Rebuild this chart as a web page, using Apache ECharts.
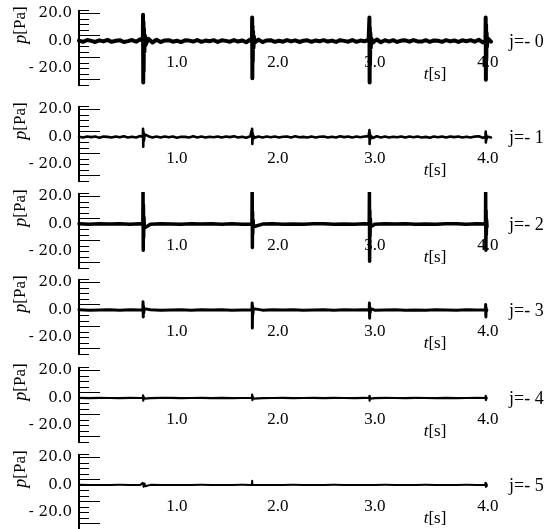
<!DOCTYPE html>
<html>
<head>
<meta charset="utf-8">
<script src="https://cdn.jsdelivr.net/npm/echarts@6/dist/echarts.min.js"></script>
<style>
  html, body { margin: 0; padding: 0; background: #fff; }
  #chart { width: 552px; height: 529px; }
</style>
</head>
<body>
<div id="chart"></div>
<script>
// panel names (right side) and x tick labels
const panelNames = ['j=- 0', 'j=- 1', 'j=- 2', 'j=- 3', 'j=- 4', 'j=- 5'];
const xTicks = [1, 2, 3, 4];
const yLabelValues = [20, 0, -20];

// background jitter, one value per sample (p1/p2 every 0.04 s, others every 0.1 s)
const p1Noise = [0.3,-0.6,0.7,0.1,-0.7,0.5,-0.3,0.8,-0.6,0.2,
  0.6,-0.7,-0.1,0.7,-0.5,1.2,-1.5,1.6,-1.1,0.9,
  -0.8,0.4,0.6,-0.5,0.2,-0.8,0.5,0.3,-0.4,0.7,
  -0.6,0.3,-0.2,0.6,-0.7,0.5,0.1,-0.5,0.7,-0.4,
  0.4,-0.9,1.1,-1.3,1.0,-0.8,0.4,0.6,-0.6,0.2,
  -0.5,0.7,-0.3,0.5,-0.7,0.2,0.5,-0.6,0.4,-0.2,
  0.6,-0.4,0.3,-0.7,0.6,0.1,-0.5,0.7,-0.6,0.3,
  -0.2,1.0,-1.2,1.1,-0.9,0.6,-0.4,0.6,-0.7,0.3,
  0.5,-0.5,0.7,-0.3,-0.4,0.6,-0.6,0.4,0.2,-0.6,
  0.6,-0.3,0.4,-0.7,0.5,-0.2,0.6,-0.5,0.9,-1.0,
  0.8,-0.5];
const p2Noise = [0.2,-0.4,0.4,-0.1,0.3,-0.5,0.3,0.1,-0.4,0.4,
  -0.2,0.5,-0.3,0.2,-0.4,0.7,-0.8,0.6,-0.4,0.3,
  -0.3,0.4,-0.2,0.4,-0.5,0.2,0.1,-0.4,0.5,-0.3,
  0.3,-0.4,0.2,-0.2,0.4,-0.4,0.3,-0.1,0.5,-0.3,
  0.2,-0.5,0.6,-0.6,0.4,-0.3,0.4,-0.2,0.3,-0.4,
  0.2,0.4,-0.3,0.5,-0.2,0.1,-0.4,0.4,-0.3,0.2,
  0.4,-0.4,0.2,-0.3,0.5,-0.1,0.3,-0.4,0.3,-0.2,
  0.4,0.6,-0.7,0.5,-0.3,0.3,-0.4,0.2,-0.2,0.4,
  -0.4,0.3,-0.2,0.4,-0.3,0.1,-0.5,0.3,-0.2,0.4,
  -0.3,0.4,-0.1,0.3,-0.4,0.2,-0.4,0.3,0.5,-0.6,
  0.4,-0.3];
const p3Noise = [0.15,-0.1,0.2,-0.05,0.1,-0.15,0.25,-0.2,0.1,0.05,-0.15,0.1,-0.05,0.15,-0.1,0.2,-0.15,0.1,-0.05,0.15,
  -0.1,0.05,-0.15,0.1,0.2,-0.1,0.05,-0.15,0.25,-0.2,0.1,-0.05,0.15,-0.1,0.05,-0.15,0.1,0.15,-0.1,0.2,-0.15];
const p4Noise = [0.1,-0.15,0.05,0.15,-0.1,0.1,-0.05,0.15,-0.15,0.05,0.1,-0.1,0.15,-0.05,0.1,-0.15,0.05,0.1,-0.1,0.15,
  -0.05,0.1,-0.15,0.05,0.15,-0.1,0.1,-0.05,0.15,-0.15,0.05,0.1,-0.1,0.05,-0.15,0.1,0.05,-0.1,0.15,-0.05,0.1];
const p5Noise = [0.05,-0.05,0.1,0,-0.05,0.05,0,-0.1,0.05,0.05,-0.05,0,0.05,-0.05,0.1,-0.05,0,0.05,-0.05,0,
  0.05,-0.05,0,0.1,-0.05,0.05,0,-0.05,0.05,-0.1,0.05,0,-0.05,0.05,0,-0.05,0.1,-0.05,0,0.05,-0.05];
const p6Noise = [0.05,0,-0.05,0,0.05,0,-0.05,0.05,0,0,-0.05,0,0.05,0,-0.05,0,0.05,0,0,-0.05,
  0,0.05,0,-0.05,0,0.05,0,0,-0.05,0,0.05,0,-0.05,0,0.05,0,0,-0.05,0.05,0,0];

// bursts: [t, p]
const p1Spikes = [[0.626,0.5],[0.628,19],[0.630,-30],[0.632,14],[0.634,-22],[0.637,9],[0.641,-8],[0.646,4],[0.652,-3],
  [1.696,-0.5],[1.698,17],[1.700,-27],[1.702,11],[1.704,-15],[1.707,7],[1.711,-5],[1.716,3],
  [2.846,0.4],[2.848,17],[2.850,-30],[2.852,10],[2.854,-16],[2.857,6],[2.861,-5],[2.866,2],
  [3.986,-0.3],[3.988,17],[3.990,-28],[3.992,12],[3.994,-14],[3.997,6],[4.001,-4],[4.006,2]];
const p2Spikes = [[0.626,0],[0.628,6],[0.630,-7],[0.632,4],[0.635,-3],[0.640,2],
  [1.696,0],[1.698,6],[1.700,-5],[1.702,3],[1.705,-2],[1.710,1],
  [2.846,0],[2.848,5],[2.850,-5],[2.852,3],[2.855,-2],[2.860,1],
  [3.986,0],[3.988,4],[3.990,-4],[3.992,2],[3.995,-2],[4.000,1]];
const p3Spikes = [[0.626,0],[0.628,27],[0.630,-19],[0.632,14],[0.634,-10],[0.637,5],[0.641,-3],
  [1.696,0],[1.698,26],[1.700,-17],[1.702,9],[1.704,-7],[1.707,3],[1.711,-2],
  [2.846,0],[2.848,25],[2.850,-27],[2.852,10],[2.854,-9],[2.857,4],[2.861,-2],
  [3.986,0],[3.988,23],[3.990,-19],[3.992,10],[3.994,-8],[3.997,3],[4.001,-2]];
const p4Spikes = [[0.626,0],[0.628,6],[0.630,-5],[0.632,3],[0.635,-2],[0.640,1],
  [1.696,0],[1.698,5],[1.700,-13],[1.702,3],[1.705,-3],[1.710,1],
  [2.846,0],[2.848,5],[2.850,-6],[2.852,2],[2.855,-2],[2.860,1],
  [3.986,0],[3.988,4],[3.990,-5],[3.992,2],[3.995,-1],[4.000,0.5]];
const p5Spikes = [[0.626,0],[0.628,2],[0.630,-2],[0.633,1],[0.638,-0.5],
  [1.696,0],[1.698,2.5],[1.700,-1.5],[1.703,1],[1.708,-0.5],
  [2.846,0],[2.848,1.5],[2.850,-2],[2.853,1],[2.858,-0.5],
  [3.986,0],[3.988,1.5],[3.990,-1.5],[3.993,0.8],[3.998,-0.4]];
const p6Spikes = [[0.600,0],[0.610,1.2],[0.618,-1.3],[0.626,1.5],[0.634,-1.4],[0.642,1.1],[0.650,-0.9],[0.660,0.5],
  [1.696,0],[1.698,3],[1.700,-1],[1.703,0.5],
  [2.846,0],[2.848,1],[2.850,-1],[2.853,0.4],
  [3.980,0],[3.986,1.5],[3.990,-1.5],[3.994,1.2],[3.998,-1]];

const noiseSets = [[p1Noise, 0.04], [p2Noise, 0.04], [p3Noise, 0.1], [p4Noise, 0.1], [p5Noise, 0.1], [p6Noise, 0.1]];
const spikeSets = [p1Spikes, p2Spikes, p3Spikes, p4Spikes, p5Spikes, p6Spikes];

// layout
const zeroY = [41, 137, 224, 310, 398, 485];
const lineWidths = [4, 2.6, 3.5, 3, 2.2, 2];
const X_MAX = 4.05;
const Y_MIN = -32, Y_MAX = 22;
const PX = 1.38; // pixels per Pa
const LEFT = 79, WIDTH = 413;

// the printed tick labels sit a little left of their ticks (except 4.0)
const xLabelRich = {
  a: { padding: [0, 8, 0, 0] },
  b: { padding: [0, 10, 0, 0] },
  c: { padding: [0, 20, 0, 0] },
  d: { padding: [0, 0, 0, 2] }
};
const xLabelStyle = { 1: 'a', 2: 'b', 3: 'c', 4: 'd' };

const grid = [], xAxis = [], yAxis = [], series = [], graphic = [];

zeroY.forEach((z, i) => {
  grid.push({ left: LEFT, width: WIDTH, top: z - Y_MAX * PX, height: (Y_MAX - Y_MIN) * PX });

  // x axis pulled up from the grid bottom onto p = 0
  xAxis.push({
    type: 'value', gridIndex: i, min: 0, max: X_MAX, interval: 1,
    position: 'bottom', offset: Y_MIN * PX,
    axisLine: { show: false, onZero: false },
    axisTick: { show: false },
    splitLine: { show: false },
    axisLabel: {
      margin: 13, color: '#000', fontFamily: 'Liberation Serif', fontSize: 17,
      rich: xLabelRich,
      formatter: v => xTicks.includes(v) ? '{' + xLabelStyle[v] + '|' + v.toFixed(1) + '}' : ''
    }
  });

  // main axis: labels and short ticks
  yAxis.push({
    type: 'value', gridIndex: i, min: Y_MIN, max: Y_MAX, interval: 4,
    axisLine: { show: true, onZero: false, lineStyle: { color: '#000', width: 2 } },
    axisTick: { show: true, inside: true, length: 10, lineStyle: { color: '#000', width: 1 } },
    splitLine: { show: false },
    axisLabel: {
      margin: 7, color: '#000', fontFamily: 'DejaVu Serif', fontSize: 15,
      formatter: v => yLabelValues.includes(v) ? (v < 0 ? '- ' + (-v).toFixed(1) : v.toFixed(1)) : ''
    }
  });
  // overlay axis: the longer ticks
  yAxis.push({
    type: 'value', gridIndex: i, min: Y_MIN, max: Y_MAX, position: 'left',
    axisLine: { show: false, onZero: false },
    axisTick: { show: true, inside: true, length: 21, customValues: [-28, -12, 4, 20], lineStyle: { color: '#000', width: 1 } },
    axisLabel: { show: false },
    splitLine: { show: false }
  });

  const [noise, dt] = noiseSets[i];
  const pts = noise.map((v, k) => [+(k * dt).toFixed(3), v]).concat(spikeSets[i]);
  pts.sort((a, b) => a[0] - b[0]);

  series.push({
    type: 'line', xAxisIndex: i, yAxisIndex: i * 2, data: pts,
    showSymbol: false, symbol: 'none', clip: true,
    lineStyle: { color: '#000', width: lineWidths[i], join: 'round', cap: 'round' }
  });

  graphic.push({
    type: 'text', x: 21, y: z - 16, rotation: Math.PI / 2,
    style: {
      text: '{i|p}[Pa]', fill: '#000', font: '17px "Liberation Serif"',
      textAlign: 'center', textVerticalAlign: 'middle',
      rich: { i: { fontStyle: 'italic', fontFamily: 'Liberation Serif', fontSize: 18 } }
    }
  });
  graphic.push({
    type: 'text', x: 435, y: z + 34,
    style: {
      text: '{i|t}[s]', fill: '#000', font: '17px "Liberation Serif"',
      textAlign: 'center', textVerticalAlign: 'middle',
      rich: { i: { fontStyle: 'italic', fontFamily: 'Liberation Serif', fontSize: 17 } }
    }
  });
  graphic.push({
    type: 'text', x: 509, y: z + 1,
    style: {
      text: panelNames[i], fill: '#000', font: '18px "Liberation Serif"',
      textAlign: 'left', textVerticalAlign: 'middle'
    }
  });
});

const myChart = echarts.init(document.getElementById('chart'));
myChart.setOption({
  backgroundColor: '#fff',
  animation: false,
  grid, xAxis, yAxis, series, graphic
});
</script>
</body>
</html>
